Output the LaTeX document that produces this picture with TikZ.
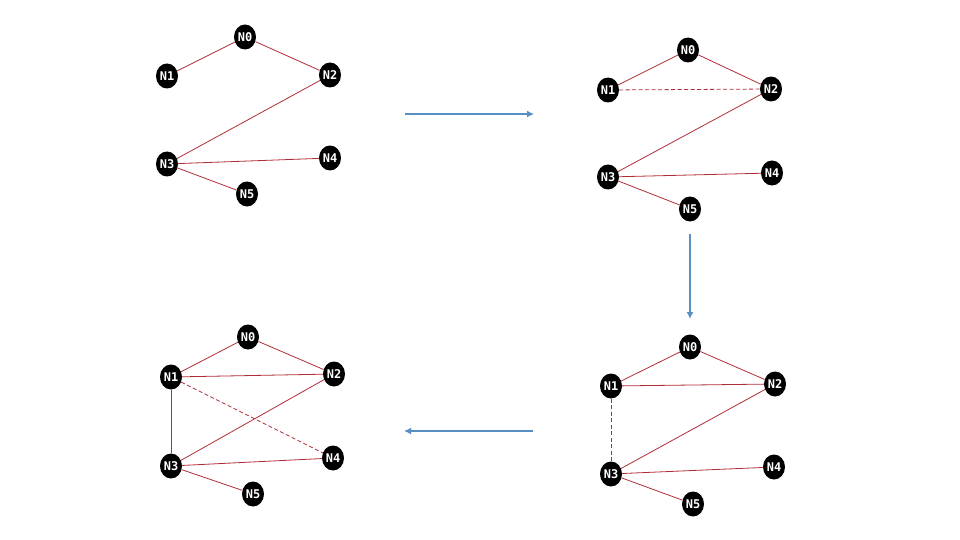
\documentclass[tikz,border=0pt]{standalone}
\usepackage{fontspec}
\usepackage{xcolor}
\usepackage{tikz}
\usetikzlibrary{arrows.meta,shapes.geometric}
\newfontfamily\nodefont{DejaVu Sans Mono}
\definecolor{edgered}{RGB}{175,45,55}
\definecolor{flowblue}{RGB}{88,142,196}

\begin{document}
\begin{tikzpicture}[x=1pt,y=-1pt,>=Latex,
    gnode/.style={ellipse,fill=black,text=white,inner sep=0pt,
      minimum width=22pt,minimum height=25pt,font=\nodefont\bfseries\fontsize{12}{12}\selectfont},
    link/.style={edgered,line width=0.8pt},
    newlink/.style={link,dashed,dash pattern=on 4pt off 2.5pt},
    flow/.style={flowblue,line width=2pt,-{Latex[length=7pt,width=7pt]}}]
  \useasboundingbox (0,0) rectangle (960,540);
  % step 1: top left
  \node[gnode] (a0) at (245,37) {N0};
  \node[gnode] (a1) at (167,76) {N1};
  \node[gnode] (a2) at (330,75) {N2};
  \node[gnode] (a3) at (167,164) {N3};
  \node[gnode] (a4) at (330,158) {N4};
  \node[gnode] (a5) at (247,194) {N5};
  \draw[link] (a0) -- (a1);
  \draw[link] (a0) -- (a2);
  \draw[link] (a2) -- (a3);
  \draw[link] (a3) -- (a4);
  \draw[link] (a3) -- (a5);
  % step 2: top right
  \node[gnode] (b0) at (688,50) {N0};
  \node[gnode] (b1) at (608,90) {N1};
  \node[gnode] (b2) at (771,89) {N2};
  \node[gnode] (b3) at (608,177) {N3};
  \node[gnode] (b4) at (772,173) {N4};
  \node[gnode] (b5) at (690,209) {N5};
  \draw[link] (b0) -- (b1);
  \draw[link] (b0) -- (b2);
  \draw[newlink] (b1) -- (b2);
  \draw[link] (b2) -- (b3);
  \draw[link] (b3) -- (b4);
  \draw[link] (b3) -- (b5);
  % step 3: bottom right
  \node[gnode] (c0) at (690,347) {N0};
  \node[gnode] (c1) at (611,386) {N1};
  \node[gnode] (c2) at (775,384) {N2};
  \node[gnode] (c3) at (611,474) {N3};
  \node[gnode] (c4) at (774,467) {N4};
  \node[gnode] (c5) at (693,504) {N5};
  \draw[link] (c0) -- (c1);
  \draw[link] (c0) -- (c2);
  \draw[link] (c1) -- (c2);
  \draw[newlink] (c1) -- (c3);
  \draw[link] (c2) -- (c3);
  \draw[link] (c3) -- (c4);
  \draw[link] (c3) -- (c5);
  % step 4: bottom left
  \node[gnode] (d0) at (248,337) {N0};
  \node[gnode] (d1) at (171,377) {N1};
  \node[gnode] (d2) at (334,374) {N2};
  \node[gnode] (d3) at (171,466) {N3};
  \node[gnode] (d4) at (333,458) {N4};
  \node[gnode] (d5) at (253,494) {N5};
  \draw[link] (d0) -- (d1);
  \draw[link] (d0) -- (d2);
  \draw[link] (d1) -- (d2);
  \draw[link] (d1) -- (d3);
  \draw[newlink] (d1) -- (d4);
  \draw[link] (d2) -- (d3);
  \draw[link] (d3) -- (d4);
  \draw[link] (d3) -- (d5);
  % arrows between steps
  \coordinate (f1s) at (405,114);
  \coordinate (f1e) at (534,114);
  \coordinate (f2s) at (690,234);
  \coordinate (f2e) at (690,319);
  \coordinate (f3s) at (533,431);
  \coordinate (f3e) at (404,431);
  \draw[flow] (f1s) -- (f1e);
  \draw[flow] (f2s) -- (f2e);
  \draw[flow] (f3s) -- (f3e);
\end{tikzpicture}
\end{document}
